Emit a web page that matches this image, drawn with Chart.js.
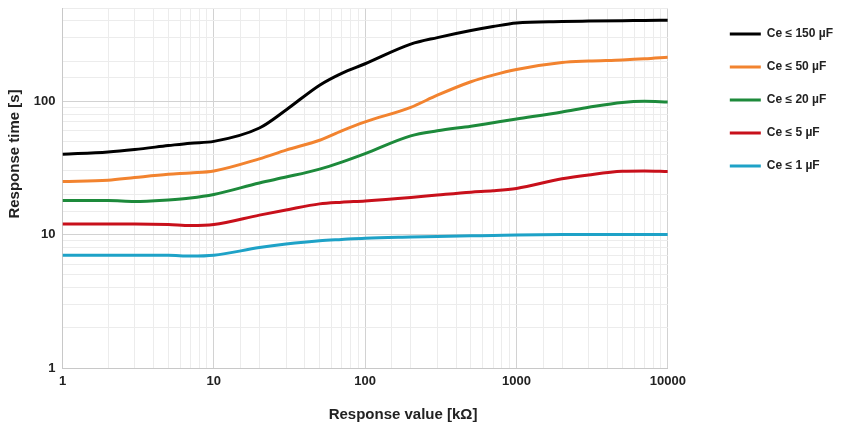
<!DOCTYPE html>
<html>
<head>
<meta charset="utf-8">
<script src="https://cdn.jsdelivr.net/npm/chart.js@4/dist/chart.umd.min.js"></script>
<style>
  html, body { margin: 0; padding: 0; background: #ffffff; }
  #wrap { position: relative; width: 845px; height: 427px; }
</style>
</head>
<body>
<div id="wrap"><canvas id="c" width="845" height="427"></canvas></div>
<script>
// ---- data ----
const resistance = [1, 2, 3, 5, 7, 10, 20, 30, 50, 70, 100, 200, 300, 500, 700, 1000, 2000, 3000, 5000, 7000, 10000];
const ce150 = [40, 41.7, 43.5, 46.5, 48.5, 50, 63, 86, 132, 162, 191, 268, 300, 339, 363, 386, 396, 399, 402, 403, 405];
const ce50  = [25, 25.6, 26.8, 28.3, 29, 30, 37, 43, 51, 60, 70, 90, 111, 140, 157, 173, 195, 200, 204, 208, 214];
const ce20  = [18, 18, 17.7, 18.2, 18.8, 20, 24.4, 27, 31, 35, 40.5, 55, 60, 65, 69, 73.5, 83, 90, 98, 100, 98.8];
const ce5   = [12, 12, 12, 11.9, 11.7, 11.9, 14, 15.3, 17, 17.5, 17.9, 19, 19.8, 20.8, 21.3, 22.2, 26.2, 28, 29.8, 30, 29.7];
const ce1   = [7, 7, 7, 7, 6.9, 7, 8, 8.5, 9, 9.2, 9.4, 9.6, 9.7, 9.8, 9.85, 9.95, 10, 10, 10, 10, 10];
const seriesNames = ['Ce ≤ 150 µF', 'Ce ≤ 50 µF', 'Ce ≤ 20 µF', 'Ce ≤ 5 µF', 'Ce ≤ 1 µF'];
const xTickLabels = [1, 10, 100, 1000, 10000];
const yTickLabels = [1, 10, 100];
const xTitle = 'Response value [kΩ]';
const yTitle = 'Response time [s]';

const colors = ['#000000', '#F2832F', '#1D8A3B', '#C8101B', '#1EA2C7'];
const allSeries = [ce150, ce50, ce20, ce5, ce1];

Chart.defaults.font.family = '"Liberation Sans", Arial, Helvetica, sans-serif';
Chart.defaults.color = '#222222';

const datasets = allSeries.map((vals, i) => ({
  label: seriesNames[i],
  data: resistance.map((x, j) => ({ x: x, y: vals[j] })),
  borderColor: colors[i],
  backgroundColor: colors[i],
  borderWidth: 3,
  pointRadius: 0,
  pointHoverRadius: 0,
  pointBorderWidth: 3,
  pointBorderColor: colors[i],
  tension: 0.4,
  cubicInterpolationMode: 'monotone',
  fill: false
}));

const isMajor = v => { const l = Math.log10(v); return Math.abs(l - Math.round(l)) < 1e-6; };
const gridColor = ctx => (ctx.tick && isMajor(ctx.tick.value)) ? '#d2d2d2' : '#ececec';

const titlesPlugin = {
  id: 'axisTitles',
  afterDraw(chart) {
    const ctx = chart.ctx;
    ctx.save();
    ctx.font = 'bold 15px "Liberation Sans", Arial, sans-serif';
    ctx.fillStyle = '#222222';
    ctx.textAlign = 'center';
    ctx.textBaseline = 'middle';
    ctx.fillText(xTitle, 403, 415);
    ctx.translate(15, 154);
    ctx.rotate(-Math.PI / 2);
    ctx.fillText(yTitle, 0, 0);
    ctx.restore();
  }
};

const legendShift = {
  id: 'legendShift',
  afterLayout(chart) {
    const lg = chart.legend;
    if (lg) { lg.left += 41; lg.right += 41; lg.top -= 1; lg.bottom -= 1; }
  }
};

new Chart(document.getElementById('c'), {
  type: 'line',
  data: { datasets },
  plugins: [titlesPlugin, legendShift],
  options: {
    responsive: false,
    animation: false,
    events: [],
    layout: { padding: { top: 8, right: 43, bottom: 0, left: 0 } },
    plugins: {
      tooltip: { enabled: false },
      legend: {
        position: 'right',
        align: 'start',
        labels: {
          usePointStyle: true,
          pointStyle: 'line',
          pointStyleWidth: 31,
          padding: 21,
          color: '#222222',
          font: { size: 12, weight: 'bold' }
        }
      }
    },
    scales: {
      x: {
        type: 'logarithmic',
        min: 1,
        max: 10000,
        afterFit(scale) { scale.height = 59; },
        grid: { color: gridColor, drawTicks: false, lineWidth: 1 },
        border: { color: '#c8c8c8' },
        ticks: {
          autoSkip: false,
          maxRotation: 0,
          padding: 6,
          color: '#222222',
          font: { size: 13, weight: 'bold' },
          callback: v => xTickLabels.some(t => Math.abs(t - v) < 1e-6 * t) ? String(Math.round(v)) : ''
        }
      },
      y: {
        type: 'logarithmic',
        min: 1,
        max: 500,
        afterFit(scale) { scale.width = 62.5; scale.paddingTop = 2; scale.paddingBottom = 0; },
        grid: { color: gridColor, drawTicks: false, lineWidth: 1 },
        border: { color: '#c8c8c8' },
        ticks: {
          autoSkip: false,
          padding: 7,
          color: '#222222',
          font: { size: 13, weight: 'bold' },
          callback: v => yTickLabels.some(t => Math.abs(t - v) < 1e-6 * t) ? String(Math.round(v)) : ''
        }
      }
    }
  }
});
</script>
</body>
</html>
